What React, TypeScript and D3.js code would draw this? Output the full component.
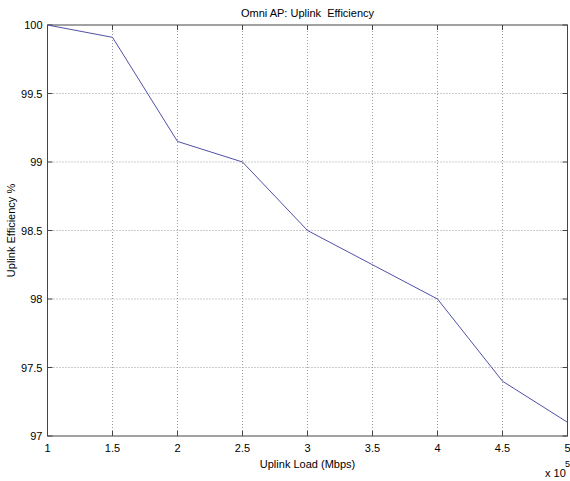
import React, { useEffect, useRef } from 'react'
import * as d3 from 'd3'

// data (x in units of 1e5)
const loads = [1, 1.5, 2, 2.5, 3, 3.5, 4, 4.5, 5]
const efficiency = [100, 99.91, 99.15, 99.0, 98.5, 98.25, 98.0, 97.4, 97.1]
const xTicks = [1, 1.5, 2, 2.5, 3, 3.5, 4, 4.5, 5]
const yTicks = [97, 97.5, 98, 98.5, 99, 99.5, 100]

const W = 570
const H = 481
const margin = { top: 25, right: 2.5, bottom: 45, left: 47.5 }

export default function App () {
  const ref = useRef<SVGSVGElement>(null)

  useEffect(() => {
    const svg = d3.select(ref.current)
    svg.selectAll('*').remove()

    const width = W - margin.left - margin.right
    const height = H - margin.top - margin.bottom
    const x = d3.scaleLinear().domain([1, 5]).range([0, width])
    const y = d3.scaleLinear().domain([97, 100]).range([height, 0])
    const font = 'Liberation Sans, Arial, sans-serif'

    svg.append('rect').attr('width', W).attr('height', H).attr('fill', '#fff')

    const g = svg.append('g')
      .attr('transform', 'translate(' + margin.left + ',' + margin.top + ')')

    // grid
    g.append('g')
      .selectAll('line')
      .data(xTicks.slice(1, -1))
      .join('line')
      .attr('x1', d => x(d)).attr('x2', d => x(d))
      .attr('y1', 0).attr('y2', height)
      .attr('stroke', '#9a9a9a')
      .attr('stroke-dasharray', '1,2')
    g.append('g')
      .selectAll('line')
      .data(yTicks.slice(1, -1))
      .join('line')
      .attr('y1', d => y(d)).attr('y2', d => y(d))
      .attr('x1', 0).attr('x2', width)
      .attr('stroke', '#9a9a9a')
      .attr('stroke-dasharray', '1,2')

    // box
    g.append('rect')
      .attr('width', width).attr('height', height)
      .attr('fill', 'none').attr('stroke', '#444').attr('stroke-width', 1)

    // inward ticks
    const tickLen = 5
    g.append('g').selectAll('path')
      .data(xTicks)
      .join('path')
      .attr('d', d => `M${x(d)},${height}v${-tickLen}M${x(d)},0v${tickLen}`)
      .attr('stroke', '#444')
    g.append('g').selectAll('path')
      .data(yTicks)
      .join('path')
      .attr('d', d => `M0,${y(d)}h${tickLen}M${width},${y(d)}h${-tickLen}`)
      .attr('stroke', '#444')

    // tick labels
    g.append('g').selectAll('text')
      .data(xTicks)
      .join('text')
      .attr('x', d => x(d))
      .attr('y', height + 16)
      .attr('text-anchor', 'middle')
      .attr('font-family', font)
      .attr('font-size', 11)
      .text(d => String(d))
    g.append('g').selectAll('text')
      .data(yTicks)
      .join('text')
      .attr('x', -5)
      .attr('y', d => y(d) + 4)
      .attr('text-anchor', 'end')
      .attr('font-family', font)
      .attr('font-size', 11)
      .text(d => String(d))

    // line
    const line = d3.line<number>()
      .x((d, i) => x(loads[i]))
      .y(d => y(d))
    g.append('path')
      .datum(efficiency)
      .attr('d', line)
      .attr('fill', 'none')
      .attr('stroke', '#5050aa')
      .attr('stroke-width', 1)

    // titles
    svg.append('text')
      .attr('x', margin.left + width / 2)
      .attr('y', 17)
      .attr('text-anchor', 'middle')
      .attr('font-family', font)
      .attr('font-size', 11)
      .style('white-space', 'pre')
      .text('Omni AP: Uplink  Efficiency')
    svg.append('text')
      .attr('x', margin.left + width / 2)
      .attr('y', 468)
      .attr('text-anchor', 'middle')
      .attr('font-family', font)
      .attr('font-size', 11)
      .text('Uplink Load (Mbps)')
    svg.append('text')
      .attr('transform', 'translate(15,' + (margin.top + height / 2) + ') rotate(-90)')
      .attr('text-anchor', 'middle')
      .attr('font-family', font)
      .attr('font-size', 11)
      .text('Uplink Efficiency %')

    // exponent
    svg.append('text')
      .attr('x', 545)
      .attr('y', 477)
      .attr('font-family', font)
      .attr('font-size', 11)
      .text('x 10')
    svg.append('text')
      .attr('x', 565)
      .attr('y', 467)
      .attr('font-family', font)
      .attr('font-size', 9)
      .text('5')
  }, [])

  return (
    <svg ref={ref} width={W} height={H}
      style={{ position: 'absolute', left: 0, top: 0, display: 'block' }} />
  )
}
